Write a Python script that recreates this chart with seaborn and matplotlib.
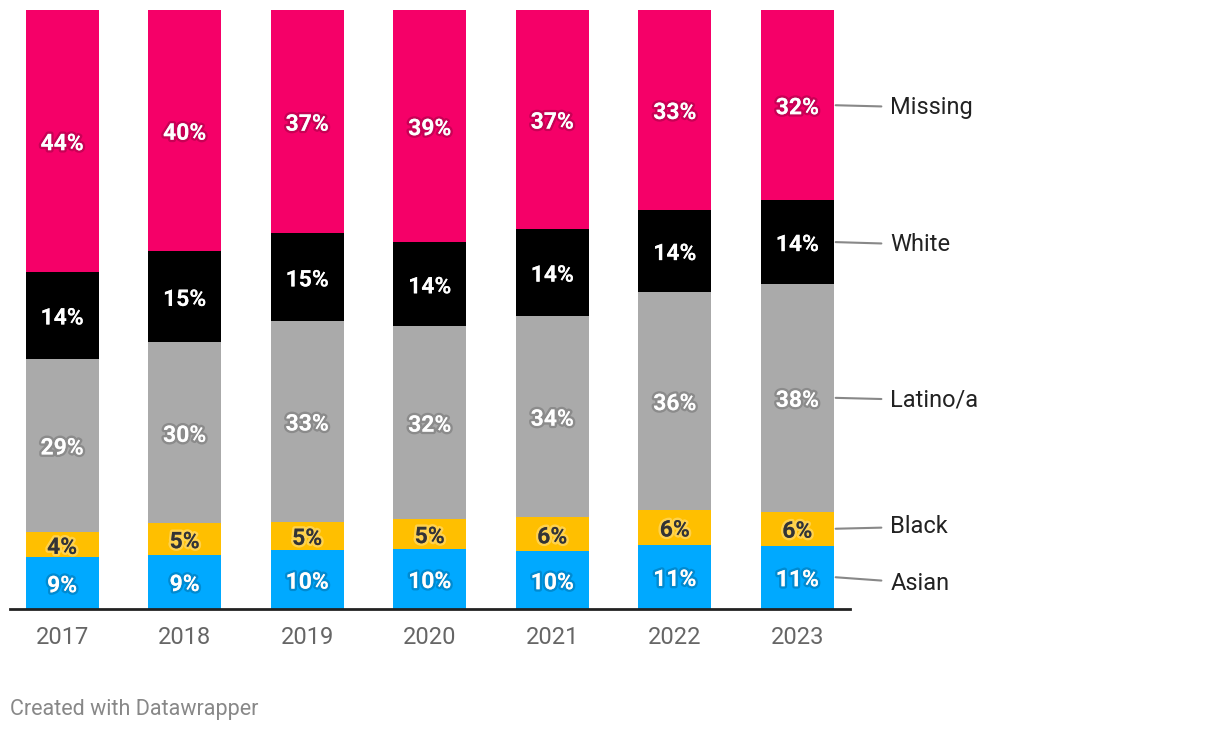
import numpy as np
import pandas as pd
import matplotlib
matplotlib.use("Agg")
import matplotlib.pyplot as plt
import matplotlib.patheffects as pe
import seaborn as sns

years = ["2017", "2018", "2019", "2020", "2021", "2022", "2023"]
categories = ["Asian", "Black", "Latino/a", "White", "Missing"]
asian = [8.6, 9.0, 9.8, 10.0, 9.6, 10.7, 10.6]
black = [4.2, 5.3, 4.8, 5.0, 5.7, 5.8, 5.6]
latino = [29.0, 30.2, 33.4, 32.2, 33.6, 36.4, 38.1]
white = [14.4, 15.2, 14.7, 14.0, 14.5, 13.7, 13.9]
missing = [43.8, 40.3, 37.3, 38.8, 36.6, 33.4, 31.8]
series = [asian, black, latino, white, missing]
colors = ["#00a9ff", "#ffbf00", "#aaaaaa", "#000000", "#f50068"]
label_dark = [False, True, False, False, False]

sns.set_theme(style="white")
plt.rcParams["font.family"] = ["Roboto", "DejaVu Sans"]

fig = plt.figure(figsize=(12.2, 7.32), dpi=100)
ax = fig.add_axes([10 / 1220, 123 / 732, 840 / 1220, 599 / 732])

bottom = np.zeros(len(years))
for cat, vals, col, dark in zip(categories, series, colors, label_dark):
    vals = np.array(vals)
    n_before = len(ax.patches)
    sns.barplot(x=years, y=vals, bottom=bottom, color=col, width=0.596,
                saturation=1, ax=ax, linewidth=0)
    bars = ax.patches[n_before:]
    for bar, v in zip(bars, vals):
        cx = bar.get_x() + bar.get_width() / 2
        cy = bar.get_y() + bar.get_height() / 2
        if dark:
            txtcol, glow = "#333333", (1, 1, 1, 0.3)
        else:
            txtcol, glow = "white", (0, 0, 0, 0.18)
        ax.text(cx, cy, f"{v:.0f}%", ha="center", va="center_baseline",
                fontsize=16.5, fontweight="bold", color=txtcol,
                path_effects=[pe.withStroke(linewidth=3.5, foreground=glow)])
    last = bars[-1]
    ymid = last.get_y() + last.get_height() / 2
    xr = last.get_x() + last.get_width()
    label_y = {"Asian": ymid - 0.6, "Black": ymid + 0.75}.get(cat, ymid)
    line_y = ymid
    ax.annotate(cat, xy=(xr + 0.015, line_y), xytext=(xr + 0.46, label_y),
                textcoords="data", ha="left", va="center_baseline", fontsize=17,
                color="#222222", annotation_clip=False,
                arrowprops=dict(arrowstyle="-", color="#888888", lw=1.5,
                                shrinkA=4, shrinkB=0))
    bottom = bottom + vals

ax.set_xlim(-0.425, 6.43)
ax.set_ylim(0, 100)
ax.set_yticks([])
ax.set_xlabel("")
ax.set_ylabel("")
for s in ["top", "right", "left"]:
    ax.spines[s].set_visible(False)
ax.spines["bottom"].set_color("#222222")
ax.spines["bottom"].set_linewidth(2)
ax.tick_params(axis="x", length=0, labelsize=17, labelcolor="#666666", pad=12)

fig.text(10 / 1220, 1 - 709 / 732, "Created with Datawrapper", fontsize=15.5,
         color="#888888", ha="left", va="center")

fig.savefig("out.png", dpi=100, facecolor="white")
